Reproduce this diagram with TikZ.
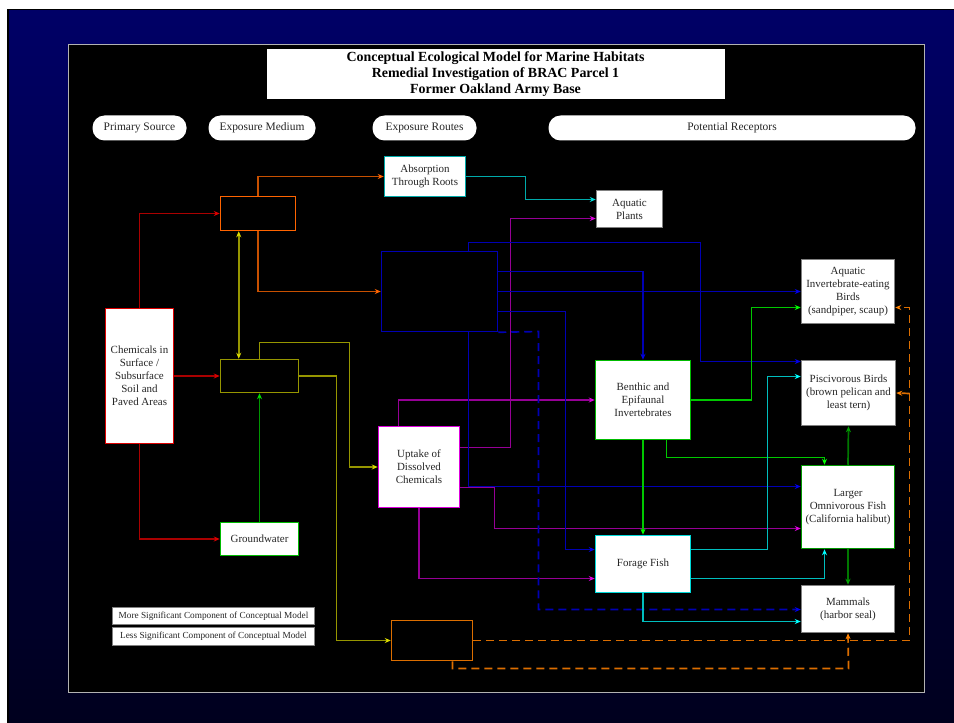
\documentclass[tikz,border=0pt]{standalone}
\usepackage{fontspec}
\setmainfont{Liberation Serif}
\usetikzlibrary{arrows.meta,calc}
\definecolor{navytop}{RGB}{0,0,102}
\definecolor{navybot}{RGB}{0,0,30}
\definecolor{cRed}{RGB}{170,0,0}
\definecolor{hRed}{RGB}{220,0,0}
\definecolor{cOrange}{RGB}{200,80,0}
\definecolor{hOrange}{RGB}{255,100,0}
\definecolor{cOlive}{RGB}{150,150,0}
\definecolor{hOlive}{RGB}{220,220,0}
\definecolor{cGreen}{RGB}{0,150,0}
\definecolor{hGreen}{RGB}{0,220,0}
\definecolor{cTeal}{RGB}{0,170,170}
\definecolor{hTeal}{RGB}{0,220,220}
\definecolor{cPurple}{RGB}{150,0,150}
\definecolor{hPurple}{RGB}{220,0,220}
\definecolor{cBlue}{RGB}{0,0,180}
\definecolor{hBlue}{RGB}{0,0,230}
\definecolor{cLime}{RGB}{0,200,0}
\definecolor{hLime}{RGB}{0,255,0}
\definecolor{cCyan}{RGB}{0,190,190}
\definecolor{hCyan}{RGB}{0,255,255}
\definecolor{cDkGreen}{RGB}{0,120,0}
\definecolor{hDkGreen}{RGB}{0,160,0}
\definecolor{cDash}{RGB}{220,110,0}
\definecolor{hDash}{RGB}{255,130,0}
\tikzset{
  box/.style={draw, fill=white, line width=1.5bp, align=center, inner sep=0pt,
    font=\fontsize{11}{13}\selectfont, text=black!85},
  darkbox/.style={draw, fill=black, line width=1.5bp, inner sep=0pt},
  pill/.style={fill=white, rounded corners=12bp, inner sep=0pt, minimum height=25bp,
    font=\fontsize{11.5}{13}\selectfont, text=black!85},
  legendbox/.style={fill=white, draw=gray, line width=0.8bp, inner sep=0pt, minimum width=202bp,
    font=\fontsize{9.3}{10}\selectfont, text=black!85},
  conn/.style={line width=1.7bp},
  redc/.style={conn, cRed, -{Stealth[length=6bp,width=5bp,color=hRed]}},
  orangec/.style={conn, cOrange, -{Stealth[length=6bp,width=5bp,color=hOrange]}},
  olivec/.style={conn, cOlive, -{Stealth[length=6bp,width=5bp,color=hOlive]}},
  olived/.style={conn, cOlive, {Stealth[length=6bp,width=5bp,color=hOlive]}-{Stealth[length=6bp,width=5bp,color=hOlive]}},
  greenc/.style={conn, cGreen, -{Stealth[length=6bp,width=5bp,color=hGreen]}},
  tealc/.style={conn, cTeal, -{Stealth[length=6bp,width=5bp,color=hTeal]}},
  purplec/.style={conn, cPurple, -{Stealth[length=6bp,width=5bp,color=hPurple]}},
  bluec/.style={conn, cBlue, -{Stealth[length=6bp,width=5bp,color=hBlue]}},
  limec/.style={conn, cLime, -{Stealth[length=6bp,width=5bp,color=hLime]}},
  cyanc/.style={conn, cCyan, -{Stealth[length=6bp,width=5bp,color=hCyan]}},
  dkgreenc/.style={conn, cDkGreen, -{Stealth[length=6bp,width=5bp,color=hDkGreen]}},
  dashc/.style={conn, cDash, dash pattern=on 8bp off 5bp, -{Stealth[length=6bp,width=5bp,color=hDash]}},
}
\begin{document}
\begin{tikzpicture}[x=1bp,y=-1bp]
\useasboundingbox (0,0) rectangle (954,723);
% background
\fill[white] (0,0) rectangle (954,723);
\fill[black] (7,9) rectangle (954,723);
\shade[top color=navytop, bottom color=navybot] (9,11) rectangle (954,723);
\fill[black] (68,44) rectangle (924,692);
\draw[gray!60!white, line width=1.3bp] (68.5,44.5) rectangle (924.5,692.5);

\begin{scope}[shift={(0.5,0.5)}]
% title
\node[fill=white, inner sep=0pt, minimum width=458bp, minimum height=50bp, align=center,
  font=\fontsize{14}{16}\bfseries\selectfont] (title) at (495,74)
  {Conceptual Ecological Model for Marine Habitats\\Remedial Investigation of BRAC Parcel 1\\Former Oakland Army Base};

% header pills
\node[pill, minimum width=94bp] (hps) at (139,127.5) {Primary Source};
\node[pill, minimum width=107bp] (hem) at (261.5,127.5) {Exposure Medium};
\node[pill, minimum width=104bp] (her) at (424,127.5) {Exposure Routes};
\node[pill, minimum width=367bp] (hpr) at (731.5,127.5) {Potential Receptors};

% nodes
\node[box, draw=hRed, minimum width=68bp, minimum height=135bp] (chem) at (139,375.5)
  {Chemicals in\\Surface /\\Subsurface\\Soil and\\Paved Areas};
\node[darkbox, draw=hOrange, minimum width=75bp, minimum height=34bp] (m1) at (257.5,213) {};
\node[darkbox, draw=cOlive, minimum width=78bp, minimum height=33bp] (m2) at (259,375.5) {};
\node[box, draw=hGreen!85!black, minimum width=78bp, minimum height=33bp] (gw) at (259,538.5) {Groundwater};
\node[darkbox, draw=cDash, minimum width=81bp, minimum height=40bp] (m3) at (431.5,640) {};
\node[box, draw=cTeal, minimum width=81bp, minimum height=40bp] (abs) at (424.5,176)
  {Absorption\\Through Roots};
\node[darkbox, draw=cBlue, minimum width=116bp, minimum height=80bp] (bb) at (439,291) {};
\node[box, draw=hPurple, minimum width=81bp, minimum height=81bp] (upt) at (418.5,466.5)
  {Uptake of\\Dissolved\\Chemicals};
\node[box, draw=gray, minimum width=66bp, minimum height=37bp] (plants) at (629,208.5)
  {Aquatic\\Plants};
\node[box, draw=hGreen!85!black, minimum width=95bp, minimum height=79bp] (benth) at (642.5,399.5)
  {Benthic and\\Epifaunal\\Invertebrates};
\node[box, draw=hCyan!85!black, minimum width=95bp, minimum height=57bp] (forage) at (642.5,563.5)
  {Forage Fish};
\node[box, draw=gray, minimum width=93bp, minimum height=64bp] (aib) at (847.5,291)
  {Aquatic\\Invertebrate-eating\\Birds\\(sandpiper, scaup)};
\node[box, draw=gray, minimum width=94bp, minimum height=65bp] (pisc) at (848,392.5)
  {Piscivorous Birds\\(brown pelican and\\least tern)};
\node[box, draw=cGreen, minimum width=93bp, minimum height=83bp] (lof) at (847.5,506.5)
  {Larger\\Omnivorous Fish\\(California halibut)};
\node[box, draw=gray, minimum width=93bp, minimum height=47bp] (mam) at (847.5,608.5)
  {Mammals\\(harbor seal)};

% legend
\node[legendbox, minimum height=17bp] (lg1) at (213,615.5) {More Significant Component of Conceptual Model};
\node[legendbox, minimum height=18bp] (lg2) at (213,636) {Less Significant Component of Conceptual Model};

% connectors: source
\draw[redc] (chem.north) |- (m1.west);
\draw[redc] (chem.east) -- (m2.west);
\draw[redc] (chem.south) |- (gw.west);
\draw[greenc] (gw.north) -- (m2.south);
\draw[olived] ([xshift=19bp]m1.south west) -- ([xshift=19bp]m2.north west);

% medium 1
\draw[orangec] (m1.north) |- (abs.west);
\draw[orangec] (m1.south) |- (bb.west);
% absorption
\draw[tealc] (abs.east) -| (525,199) -- (plants.west |- 0,199);
% medium 2
\draw[olivec] (m2.north) |- (349,342) |- (upt.west);
\draw[olivec] (m2.east) -- (m2.east -| 336,0) |- (m3.west);
% uptake
\draw[purplec] ([xshift=-20.5bp]upt.north) |- (benth.west);
\draw[purplec] (upt.east |- 0,447) -| (510,218) -- (plants.west |- 0,218);
\draw[purplec] (upt.east |- 0,487) -| (494,528) -- (lof.west |- 0,528);
\draw[purplec] (upt.south) |- (forage.west |- 0,578);
% blue box
\draw[bluec] (bb.north -| 468,0) |- (700,242) |- (pisc.west |- 0,361);
\draw[bluec] (bb.east |- 0,271) -| (benth.north);
\draw[bluec] (bb.east) -- (aib.west);
\draw[bluec] (bb.east |- 0,311) -| (565,549) -- (forage.west |- 0,549);
\draw[bluec] (bb.south -| 468,0) |- (lof.west |- 0,486);
\draw[bluec, dash pattern=on 8bp off 5bp] (bb.south east) -- (538,331) |- (mam.west |- 0,609);
% benthic
\draw[limec] (benth.east) -| (751,307) -- (aib.west |- 0,307);
\draw[limec] (benth.south) -- (forage.north);
\draw[limec] (benth.south -| 666,0) |- (824,457) -- (lof.north -| 824,0);
% forage
\draw[cyanc] (forage.east |- 0,549) -| (767,376) -- (pisc.west |- 0,376);
\draw[cyanc] (forage.east |- 0,578) -| (lof.south -| 824,0);
\draw[cyanc] (forage.south) |- (mam.west |- 0,621);
% larger fish
\draw[dkgreenc] (lof.north) -- (pisc.south);
\draw[dkgreenc] (lof.south) -- (mam.north);
% medium 3 dashed
\draw[dashc] (m3.east) -- (909,640) |- (aib.east |- 0,307);
\draw[dashc] (909,393) -- (pisc.east);
\draw[dashc] (m3.south -| 452,0) |- (848,668) -- (mam.south);
\end{scope}
\end{tikzpicture}
\end{document}
